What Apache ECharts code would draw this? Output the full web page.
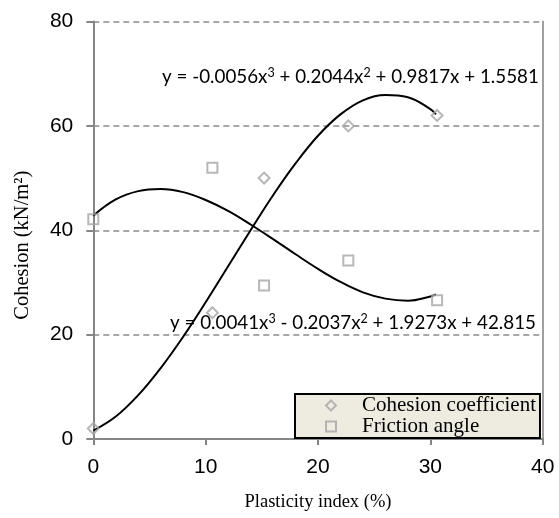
<!DOCTYPE html>
<html>
<head>
<meta charset="utf-8">
<script src="https://cdn.jsdelivr.net/npm/echarts@6/dist/echarts.min.js"></script>
<style>html,body{margin:0;padding:0;background:#fff;}#c{width:559px;height:518px;}</style>
</head>
<body>
<div id="c"></div>
<script>
// Measured data points
const plasticity = [0, 10.6, 15.2, 22.7, 30.6];
const cohesion = [2.0, 24.2, 50.0, 60.0, 62.0];
const friction = [42.1, 52.0, 29.4, 34.2, 26.6];

const trendX = [0, 2, 4, 6, 8, 10, 12, 14, 16, 18, 20, 22, 24, 26, 28, 30, 30.5];
const cohesionTrend = [1.6, 4.3, 8.4, 13.6, 19.6, 26.2, 33.1, 40.0, 46.7, 52.8, 58.1, 62.2, 64.9, 65.9, 65.5, 63.2, 62.2];
const frictionTrend = [42.8, 45.9, 47.5, 47.9, 47.3, 45.8, 43.7, 41.1, 38.3, 35.4, 32.6, 30.1, 28.1, 26.9, 26.5, 27.3, 27.7];

const xTicks = [0, 10, 20, 30, 40];
const yTicks = [0, 20, 40, 60, 80];
const cohesionEq = 'y = -0.0056x{s|3} + 0.2044x{s|2} + 0.9817x + 1.5581';
const frictionEq = 'y = 0.0041x{s|3} - 0.2037x{s|2} + 1.9273x + 42.815';

const pair = (xs, ys) => xs.map((x, i) => [x, ys[i]]);

const chart = echarts.init(document.getElementById('c'), null, {renderer: 'canvas'});
const axisGray = '#868686';
const markerGray = '#A5A5A5';
const eqRich = {s: {fontFamily: 'Lato', fontSize: 12.5, verticalAlign: 'top', fill: '#000', lineHeight: 22}};

chart.setOption({
  animation: false,
  backgroundColor: '#ffffff',
  grid: {left: 93.3, right: 16.3, top: 21.5, bottom: 79, containLabel: false},
  xAxis: {
    type: 'value', min: xTicks[0], max: xTicks[xTicks.length - 1], interval: 10,
    name: 'Plasticity index (%)', nameLocation: 'middle', nameGap: 54,
    nameTextStyle: {fontFamily: 'Liberation Serif', fontSize: 18.5, color: '#000'},
    axisLine: {show: true, onZero: false, lineStyle: {color: axisGray, width: 2}},
    axisTick: {show: true, length: 6, lineStyle: {color: axisGray, width: 2}},
    axisLabel: {margin: 18, fontFamily: 'Liberation Sans', fontSize: 21, color: '#000'},
    splitLine: {show: false}
  },
  yAxis: [{
    type: 'value', min: yTicks[0], max: yTicks[yTicks.length - 1], interval: 20,
    name: 'Cohesion (kN/m²)', nameLocation: 'middle', nameGap: 60, nameRotate: 90,
    nameTextStyle: {fontFamily: 'Liberation Serif', fontSize: 20.5, color: '#000', padding: [0, 30, 0, 0]},
    axisLine: {show: true, onZero: false, lineStyle: {color: axisGray, width: 2}},
    axisTick: {show: true, length: 7, lineStyle: {color: axisGray, width: 2}},
    axisLabel: {margin: 20, fontFamily: 'Liberation Sans', fontSize: 21, color: '#000'},
    splitLine: {show: true, lineStyle: {color: '#8C8C8C', width: 1.5, type: [6, 4]}}
  }, {
    type: 'value', min: 0, max: 80, interval: 20, position: 'right',
    axisLine: {show: true, onZero: false, lineStyle: {color: '#A0A0A0', width: 2}},
    axisTick: {show: false}, axisLabel: {show: false}, splitLine: {show: false}
  }],
  legend: {
    data: ['Cohesion coefficient', 'Friction angle'],
    orient: 'vertical', left: 295, top: 394,
    padding: [1, 4, 1, 30], itemGap: 0, itemWidth: 10, itemHeight: 10,
    backgroundColor: '#EEECE1', borderColor: '#000', borderWidth: 2, borderRadius: 0,
    textStyle: {fontFamily: 'Liberation Serif', fontSize: 21, color: '#000', lineHeight: 21, padding: [0, 0, 0, 21]}
  },
  graphic: [
    {type: 'text', z: 100, style: {x: 162, y: 77, text: cohesionEq, fontFamily: 'Lato', fontSize: 18.8, lineHeight: 22, fill: '#000', verticalAlign: 'middle', rich: eqRich}},
    {type: 'text', z: 100, style: {x: 170, y: 323, text: frictionEq, fontFamily: 'Lato', fontSize: 18.8, lineHeight: 22, fill: '#000', verticalAlign: 'middle', rich: eqRich}}
  ],
  series: [
    {
      name: 'Cohesion coefficient', type: 'scatter', symbol: 'diamond', symbolSize: 11, symbolKeepAspect: true,
      data: pair(plasticity, cohesion), z: 5,
      itemStyle: {color: 'rgba(255,255,255,0)', borderColor: markerGray, borderWidth: 2}
    },
    {
      name: 'Friction angle', type: 'scatter', symbol: 'rect', symbolSize: 10, symbolKeepAspect: true,
      data: pair(plasticity, friction), z: 5,
      itemStyle: {color: 'rgba(255,255,255,0)', borderColor: markerGray, borderWidth: 2}
    },
    {
      name: 'Cohesion trend', type: 'line', data: pair(trendX, cohesionTrend), smooth: 0.4,
      showSymbol: false, symbol: 'none', lineStyle: {color: '#000', width: 2}, z: 4
    },
    {
      name: 'Friction trend', type: 'line', data: pair(trendX, frictionTrend), smooth: 0.4,
      showSymbol: false, symbol: 'none', lineStyle: {color: '#000', width: 2}, z: 4
    }
  ]
});
</script>
</body>
</html>
